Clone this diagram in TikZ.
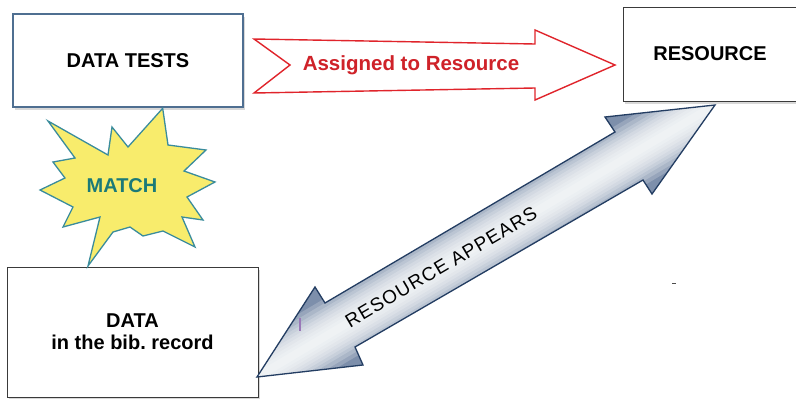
\documentclass[tikz,border=0pt]{standalone}
\usepackage{fontspec}
\setmainfont{Liberation Sans}
\usetikzlibrary{shadows,calc}
\definecolor{boxblue}{HTML}{4F6F91}
\definecolor{boxgray}{HTML}{3A3A3A}
\definecolor{redarrow}{HTML}{E0242B}
\definecolor{redtext}{HTML}{CF2229}
\definecolor{staryellow}{HTML}{F8EC6C}
\definecolor{starteal}{HTML}{3A8C9C}
\definecolor{matchteal}{HTML}{1B7A78}
\definecolor{navy}{HTML}{233D62}
\definecolor{steel}{HTML}{7D8FAB}
\definecolor{tick}{HTML}{9A78B8}
\frenchspacing
\begin{document}
\begin{tikzpicture}[x=1pt,y=-1pt,
  box/.style={draw=boxgray, line width=0.9pt, fill=white, inner sep=0pt,
    font=\fontsize{20}{22}\selectfont\bfseries, align=center,
    drop shadow={shadow xshift=2pt, shadow yshift=-3pt, opacity=0.3, fill=gray}},
  lbl/.style={inner sep=0pt}]
\useasboundingbox (0,0) rectangle (796,399);
\fill[white] (0,0) rectangle (796,399);

% boxes
\node[box, draw=boxblue, line width=1.1pt, minimum width=230pt, minimum height=93pt] (tests) at (128,60.5) {DATA TESTS};
\node[box, minimum width=174pt, minimum height=94pt] (resource) at (710,54) {RESOURCE};
\node[box, minimum width=251pt, minimum height=130pt] (data) at (132.5,332) {DATA\\in the bib. record};

% star
\draw[fill=staryellow, draw=starteal, line width=1.3pt, line join=miter]
  (162.7,108.3) -- (168,145) -- (206,150) -- (184,171) -- (215,182) -- (187,197)
  -- (203,220) -- (182,217) -- (195,247) -- (163,231) -- (143,236) -- (130,227)
  -- (113,232) -- (88,266) -- (100,217) -- (63,227) -- (73,207) -- (40,190)
  -- (65,178) -- (53,162) -- (75,158) -- (48,121) -- (108,155) -- (112,127)
  -- (128,147) -- cycle;
\node[lbl, text=matchteal, font=\fontsize{20}{22}\selectfont\bfseries] (match) at (122,186) {MATCH};

% red block arrow
\draw[redarrow, line width=1.4pt, fill=white, line join=miter]
  (254,39) -- (535,44) -- (535,30) -- (615,65) -- (535,100) -- (535,88)
  -- (254,93) -- (290,65) -- cycle;
\node[lbl, text=redtext, font=\fontsize{20.5}{22}\selectfont\bfseries] (assigned) at (411,65) {Assigned to Resource};

% double block arrow
\coordinate (t1) at (715,105);
\coordinate (t2) at (257,377);
\begin{scope}
  \clip (t1) -- (652,194) -- (643,180) -- (355,347) -- (363,365) -- (t2)
    -- (315,287) -- (325,303) -- (615,132) -- (605,117) -- cycle;
  \fill[steel] (240,90) rectangle (730,390);
  \foreach \w in {66,58,50,44,38,32,26,20,14,8}
    \draw[white, opacity=0.2, line width=\w pt] ($(t2)!-0.1!(t1)$) -- ($(t1)!-0.1!(t2)$);
\end{scope}
\draw[navy, line width=1.3pt, line join=miter]
  (t1) -- (652,194) -- (643,180) -- (355,347) -- (363,365) -- (t2)
    -- (315,287) -- (325,303) -- (615,132) -- (605,117) -- cycle;
\node[lbl, rotate=30.5, font=\fontsize{19}{21}\selectfont\addfontfeatures{LetterSpace=6}] (appears) at (441,267) {RESOURCE APPEARS};

% small marks
\draw[tick, line width=1.5pt] (300,318) -- (300,331);
\draw[gray!60!black, line width=1pt] (672,283) -- (676,283);
\end{tikzpicture}
\end{document}
